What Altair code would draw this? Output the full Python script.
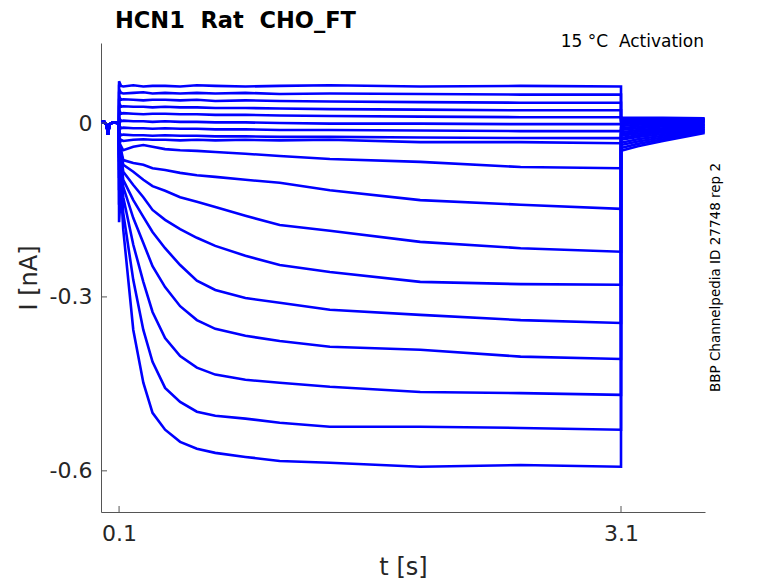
import pandas as pd
import altair as alt

# time base (s)
pre_t = [-0.008, 0.012, 0.026, 0.034, 0.042, 0.06, 0.099]
pre_i = [0.001, 0.002, -0.004, -0.020, -0.003, 0.001, 0.0]
step_t = [0.1, 0.112, 0.125, 0.185, 0.245, 0.30, 0.375, 0.465, 0.565,
          0.675, 0.855, 1.06, 1.36, 1.90, 2.50, 3.10]
tail_t = [3.1, 3.2, 3.35, 3.6]

# current during the step (nA), one list per sweep, top to bottom
s01 = [0.072, 0.064, 0.063, 0.065, 0.063, 0.064, 0.064, 0.063, 0.065, 0.064, 0.063, 0.064, 0.065, 0.063, 0.064, 0.063]
s02 = [0.058, 0.052, 0.051, 0.052, 0.053, 0.051, 0.052, 0.051, 0.052, 0.051, 0.052, 0.050, 0.051, 0.050, 0.049, 0.049]
s03 = [0.046, 0.040, 0.041, 0.040, 0.039, 0.040, 0.040, 0.039, 0.040, 0.038, 0.039, 0.038, 0.037, 0.036, 0.035, 0.035]
s04 = [0.034, 0.028, 0.029, 0.028, 0.028, 0.027, 0.028, 0.027, 0.027, 0.026, 0.026, 0.025, 0.024, 0.023, 0.022, 0.022]
s05 = [0.022, 0.016, 0.017, 0.016, 0.015, 0.016, 0.016, 0.015, 0.015, 0.014, 0.014, 0.013, 0.012, 0.011, 0.010, 0.010]
s06 = [0.009, 0.003, 0.004, 0.003, 0.003, 0.002, 0.003, 0.002, 0.002, 0.001, 0.001, 0.000, -0.001, -0.001, -0.002, -0.002]
s07 = [-0.004, -0.009, -0.008, -0.009, -0.009, -0.010, -0.009, -0.010, -0.010, -0.011, -0.011, -0.012, -0.012, -0.013, -0.014, -0.014]
s08 = [-0.016, -0.021, -0.020, -0.021, -0.021, -0.022, -0.021, -0.022, -0.022, -0.023, -0.023, -0.024, -0.024, -0.025, -0.026, -0.026]
s09 = [-0.038, -0.029, -0.031, -0.029, -0.028, -0.029, -0.029, -0.030, -0.029, -0.030, -0.029, -0.030, -0.029, -0.033, -0.033, -0.035]
s10 = [-0.047, -0.040, -0.047, -0.041, -0.038, -0.041, -0.045, -0.047, -0.048, -0.050, -0.053, -0.057, -0.062, -0.067, -0.076, -0.078]
s11 = [-0.055, -0.047, -0.064, -0.069, -0.072, -0.078, -0.081, -0.086, -0.090, -0.093, -0.098, -0.103, -0.116, -0.133, -0.141, -0.148]
s12 = [-0.060, -0.050, -0.072, -0.084, -0.098, -0.109, -0.117, -0.128, -0.136, -0.145, -0.160, -0.176, -0.186, -0.205, -0.216, -0.222]
s13 = [-0.067, -0.055, -0.084, -0.107, -0.128, -0.150, -0.167, -0.183, -0.198, -0.212, -0.229, -0.245, -0.257, -0.274, -0.278, -0.279]
s14 = [-0.081, -0.064, -0.098, -0.133, -0.162, -0.188, -0.216, -0.245, -0.272, -0.288, -0.302, -0.310, -0.322, -0.331, -0.340, -0.345]
s15 = [-0.095, -0.072, -0.110, -0.164, -0.207, -0.247, -0.283, -0.316, -0.340, -0.355, -0.367, -0.376, -0.386, -0.391, -0.403, -0.407]
s16 = [-0.116, -0.084, -0.128, -0.210, -0.274, -0.326, -0.371, -0.402, -0.422, -0.434, -0.443, -0.448, -0.455, -0.464, -0.466, -0.469]
s17 = [-0.141, -0.098, -0.155, -0.271, -0.357, -0.412, -0.457, -0.481, -0.498, -0.505, -0.510, -0.517, -0.524, -0.524, -0.526, -0.529]
s18 = [-0.171, -0.116, -0.184, -0.357, -0.448, -0.500, -0.529, -0.550, -0.562, -0.569, -0.576, -0.583, -0.586, -0.593, -0.590, -0.593]
sweeps = [s01, s02, s03, s04, s05, s06, s07, s08, s09,
          s10, s11, s12, s13, s14, s15, s16, s17, s18]

# tail currents after the step, one value per sweep
tail_a = [0.009, 0.007, 0.005, 0.003, 0.002, -0.002, -0.005, -0.009, -0.012, -0.016, -0.019, -0.022, -0.026, -0.029, -0.034, -0.038, -0.043, -0.048]
tail_b = [0.009, 0.008, 0.006, 0.004, 0.002, 0.000, -0.003, -0.006, -0.009, -0.012, -0.015, -0.018, -0.021, -0.024, -0.028, -0.032, -0.036, -0.040]
tail_c = [0.009, 0.008, 0.007, 0.005, 0.003, 0.001, -0.001, -0.004, -0.006, -0.009, -0.011, -0.014, -0.016, -0.019, -0.022, -0.025, -0.028, -0.031]
tail_d = [0.008, 0.007, 0.006, 0.005, 0.004, 0.002, 0.001, -0.001, -0.003, -0.004, -0.006, -0.007, -0.009, -0.010, -0.012, -0.013, -0.015, -0.017]
tails = [tail_a, tail_b, tail_c, tail_d]

x_ticks = [0.1, 3.1]
y_ticks = [0, -0.3, -0.6]

rows = []
for k, s in enumerate(sweeps):
    n = 0
    for t, i in zip(pre_t, pre_i):
        rows.append({"sweep": k, "n": n, "t": t, "I": i}); n += 1
    for t, i in zip(step_t, s):
        rows.append({"sweep": k, "n": n, "t": t, "I": i}); n += 1
    for t, col in zip(tail_t, tails):
        rows.append({"sweep": k, "n": n, "t": t, "I": col[k]}); n += 1
df = pd.DataFrame(rows)

W, H = 604, 469
FONT = "DejaVu Sans"
xs = alt.Scale(domain=[-0.008, 3.602], nice=False, zero=False)
ys = alt.Scale(domain=[-0.671, 0.138], nice=False, zero=False)

traces = alt.Chart(df).mark_line(color="#0000ff", strokeWidth=2.6, clip=True).encode(
    x=alt.X("t:Q", scale=xs, title="t [s]",
            axis=alt.Axis(values=x_ticks, labelExpr="'' + datum.value", ticks=False,
                          grid=False, labelPadding=11, titlePadding=11)),
    y=alt.Y("I:Q", scale=ys, title="I [nA]",
            axis=alt.Axis(values=y_ticks, labelExpr="'' + datum.value", ticks=False,
                          grid=False, labelPadding=9, titlePadding=8)),
    detail="sweep:N",
    order="n:Q",
)

# inward tick marks like the original
xt = alt.Chart(pd.DataFrame({"t": x_ticks})).mark_rule(color="#555555").encode(
    x=alt.X("t:Q", scale=xs, title="t [s]"), y=alt.value(H), y2=alt.value(H - 6))
yt = alt.Chart(pd.DataFrame({"I": y_ticks})).mark_rule(color="#555555").encode(
    y=alt.Y("I:Q", scale=ys, title="I [nA]"), x=alt.value(0), x2=alt.value(6))

head = alt.Chart(pd.DataFrame({"s": ["HCN1\u00a0 Rat\u00a0 CHO_FT"]})).mark_text(
    font=FONT, fontSize=22.5, fontWeight="bold", color="#000000", align="left",
    baseline="alphabetic"
).encode(text="s:N", x=alt.value(14), y=alt.value(-15))

cond = alt.Chart(pd.DataFrame({"s": ["15 °C\u00a0 Activation"]})).mark_text(
    font=FONT, fontSize=17, color="#000000", align="right", baseline="alphabetic"
).encode(text="s:N", x=alt.value(W - 1), y=alt.value(4))

src = alt.Chart(pd.DataFrame({"s": ["BBP Channelpedia ID 27748 rep 2"]})).mark_text(
    font=FONT, fontSize=13.5, color="#000000", angle=270, align="center", baseline="middle"
).encode(text="s:N", x=alt.value(W + 11), y=alt.value(H / 2))

chart = alt.layer(traces, xt, yt, head, cond, src).properties(
    width=W, height=H,
    autosize=alt.AutoSizeParams(type="none"),
    padding={"left": 93, "top": 35, "right": 60, "bottom": 70},
).configure_view(stroke=None).configure_axis(
    domainColor="#555555", domainWidth=1, labelFont=FONT, titleFont=FONT,
    labelFontSize=22, titleFontSize=24, labelColor="#262626", titleColor="#262626",
    titleFontWeight="normal",
)

chart.save("out.html", embed_options={"renderer": "svg", "actions": False})
